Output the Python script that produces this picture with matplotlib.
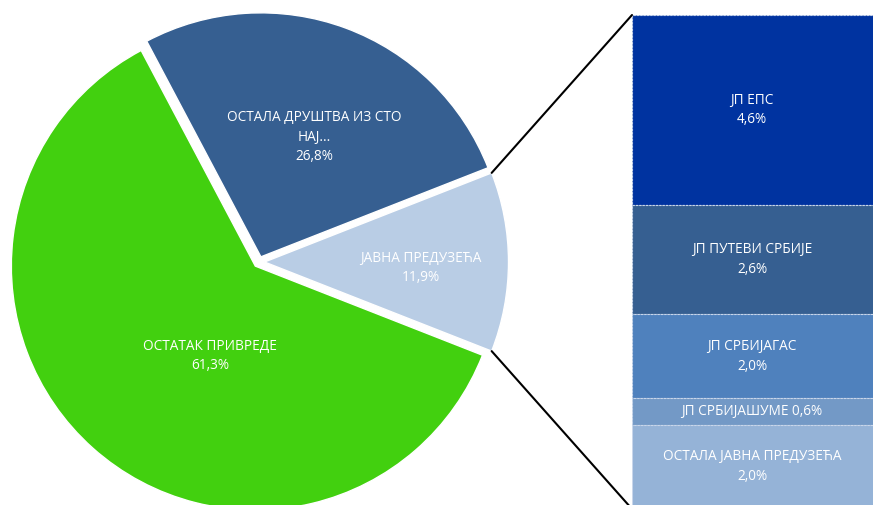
import matplotlib
matplotlib.use("Agg")
import matplotlib.pyplot as plt
from matplotlib.patches import ConnectionPatch
import numpy as np

plt.rcParams['font.family'] = ['Open Sans', 'DejaVu Sans']

# pie data
pie_labels = ['ЈАВНА ПРЕДУЗЕЋА', 'ОСТАЛА ДРУШТВА ИЗ СТО\nНАЈ...', 'ОСТАТАК ПРИВРЕДЕ']
pie_values = [11.9, 26.8, 61.3]
pie_colors = ['#B9CDE5', '#365F91', '#42D00F']

# bar data (top to bottom)
bar_labels = ['ЈП ЕПС', 'ЈП ПУТЕВИ СРБИЈЕ', 'ЈП СРБИЈАГАС', 'ЈП СРБИЈАШУМЕ', 'ОСТАЛА ЈАВНА ПРЕДУЗЕЋА']
bar_values = [4.6, 2.64, 2.04, 0.64, 2.04]
bar_colors = ['#0033A0', '#365F91', '#4F81BD', '#7399C6', '#95B3D7']

W, H = 873, 505
fig = plt.figure(figsize=(W / 100, H / 100), dpi=100)

# pie axes in pixel units (y up)
ax1 = fig.add_axes([0, 0, 1, 1])
cx, cy, R = 259, H - 262, 244
start = -pie_values[0] * 3.6 / 2
wedges, _ = ax1.pie(pie_values, colors=pie_colors, startangle=start,
                    center=(cx, cy), radius=R, explode=[5.5, 5.5, 5.5],
                    wedgeprops=dict(edgecolor='white', linewidth=1))
ax1.set_xlim(0, W)
ax1.set_ylim(0, H)
ax1.set_aspect('auto')
ax1.axis('off')

fmt = lambda v: f"{v:.1f}".replace('.', ',') + '%'
pie_text_pos = [(421, H - 268), (314, H - 137), (210, H - 356)]
for (tx, ty), lab, v in zip(pie_text_pos, pie_labels, pie_values):
    ax1.text(tx, ty, f"{lab}\n{fmt(v)}", ha='center', va='center', color='white',
             fontsize=9.8, linespacing=1.45)

# stacked bar axes
px_per = 190 / bar_values[0]
total = sum(bar_values)
top_px = 15
bar_h_px = total * px_per
ax2 = fig.add_axes([632 / W, (H - top_px - bar_h_px) / H, 245 / W, bar_h_px / H])
bottom = total
for lab, v, c in zip(bar_labels, bar_values, bar_colors):
    bottom -= v
    ax2.bar(0, v, bottom=bottom, width=1, color=c, edgecolor='#C9D6EA',
            linewidth=0.8, linestyle=(0, (2, 1)))
    if v < 1:
        txt = f"{lab} {fmt(v)}"
    else:
        txt = f"{lab}\n{fmt(v)}"
    ax2.text(-0.01, bottom + v / 2, txt, ha='center', va='center', color='white',
             fontsize=9.8, linespacing=1.45)
ax2.set_xlim(-0.5, 0.5)
ax2.set_ylim(0, total)
ax2.axis('off')

# connecting lines
th1 = np.deg2rad(wedges[0].theta1)
th2 = np.deg2rad(wedges[0].theta2)
wc = wedges[0].center
for th, yb in [(th2, total), (th1, 0)]:
    p = (wc[0] + R * np.cos(th), wc[1] + R * np.sin(th))
    con = ConnectionPatch(xyA=(-0.5, yb), coordsA=ax2.transData,
                          xyB=p, coordsB=ax1.transData, color='black', linewidth=1.5)
    fig.add_artist(con)

fig.savefig('out.png', dpi=100)
